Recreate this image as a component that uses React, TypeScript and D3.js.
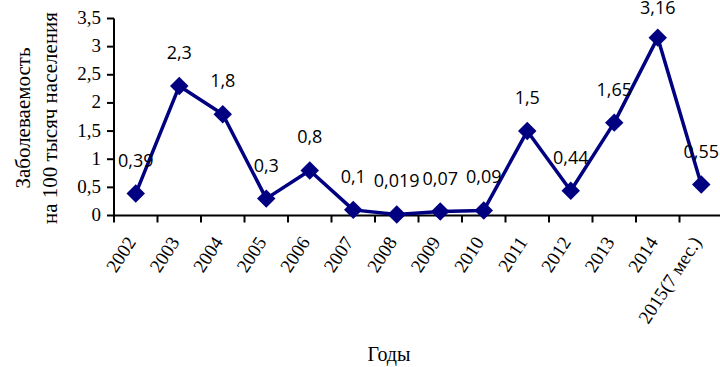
import React from "react";
import * as d3 from "d3";

const categories = ["2002","2003","2004","2005","2006","2007","2008","2009","2010","2011","2012","2013","2014","2015(7 мес.)"];
const values = [0.39, 2.3, 1.8, 0.3, 0.8, 0.1, 0.019, 0.07, 0.09, 1.5, 0.44, 1.65, 3.16, 0.55];
const valueLabels = ["0,39","2,3","1,8","0,3","0,8","0,1","0,019","0,07","0,09","1,5","0,44","1,65","3,16","0,55"];
const yTicks = [0, 0.5, 1, 1.5, 2, 2.5, 3, 3.5];
const yTickLabels = ["0","0,5","1","1,5","2","2,5","3","3,5"];
const yTitle = ["Заболеваемость", "на 100 тысяч населения"];
const xTitle = "Годы";

const W = 720, H = 367;
const NAVY = "#000080";
const serif = "'Liberation Serif', 'Times New Roman', serif";
const sans = "'Open Sans', 'DejaVu Sans', sans-serif";

export default function App() {
  const x = d3.scaleBand<string>().domain(categories).range([114, 114 + 43.5 * categories.length]);
  const y = d3.scaleLinear().domain([0, 3.5]).range([215.5, 18.5]);
  const cx = (c: string) => (x(c) as number) + x.bandwidth() / 2;
  const line = d3.line<number>().x((_, i) => cx(categories[i])).y((v) => y(v));
  const sq = d3.symbol().type(d3.symbolSquare).size(170)();

  const ticksX = categories.map((c) => x(c) as number).concat([(x(categories[categories.length - 1]) as number) + x.bandwidth()]);

  return (
    <svg width={W} height={H} style={{ position: "absolute", left: 0, top: 0, background: "#fff" }}>
      <rect x={0} y={0} width={W} height={H} fill="#fff" />
      {/* y axis */}
      <line x1={114} x2={114} y1={y(3.5)} y2={y(0)} stroke="#000" strokeWidth={2} />
      {yTicks.map((t, i) => (
        <g key={i}>
          <line x1={107} x2={114} y1={y(t)} y2={y(t)} stroke="#000" strokeWidth={2} />
          <text x={101} y={y(t) - 1} textAnchor="end" dominantBaseline="central" fontFamily={serif} fontSize={19} fill="#000">
            {yTickLabels[i]}
          </text>
        </g>
      ))}
      {/* x axis */}
      <line x1={113} x2={W} y1={y(0)} y2={y(0)} stroke="#000" strokeWidth={2} />
      {ticksX.map((tx, i) => (
        <line key={i} x1={tx} x2={tx} y1={y(0)} y2={y(0) + 7} stroke="#000" strokeWidth={2} />
      ))}
      {categories.map((c) => (
        <text key={c} transform={`translate(${cx(c) + 1},${242}) rotate(-57)`} textAnchor="end" fontFamily={serif} fontSize={19} fill="#000">
          {c}
        </text>
      ))}
      {/* line */}
      <path d={line(values) || ""} fill="none" stroke={NAVY} strokeWidth={3.5} strokeLinejoin="round" />
      {values.map((v, i) => (
        <path key={i} d={sq || ""} transform={`translate(${cx(categories[i])},${y(v)}) rotate(45)`} fill={NAVY} />
      ))}
      {values.map((v, i) => (
        <text key={i} x={cx(categories[i])} y={Math.max(y(v) - 27, 14)} textAnchor="middle" fontFamily={sans} fontSize={18} fill="#000">
          {valueLabels[i]}
        </text>
      ))}
      {/* titles */}
      <text transform="translate(30,118) rotate(-90)" textAnchor="middle" fontFamily={serif} fontSize={21} fill="#000">
        {yTitle[0]}
      </text>
      <text transform="translate(57,118) rotate(-90)" textAnchor="middle" fontFamily={serif} fontSize={21} fill="#000">
        {yTitle[1]}
      </text>
      <text x={389} y={361} textAnchor="middle" fontFamily={serif} fontSize={20} fill="#000">
        {xTitle}
      </text>
    </svg>
  );
}
